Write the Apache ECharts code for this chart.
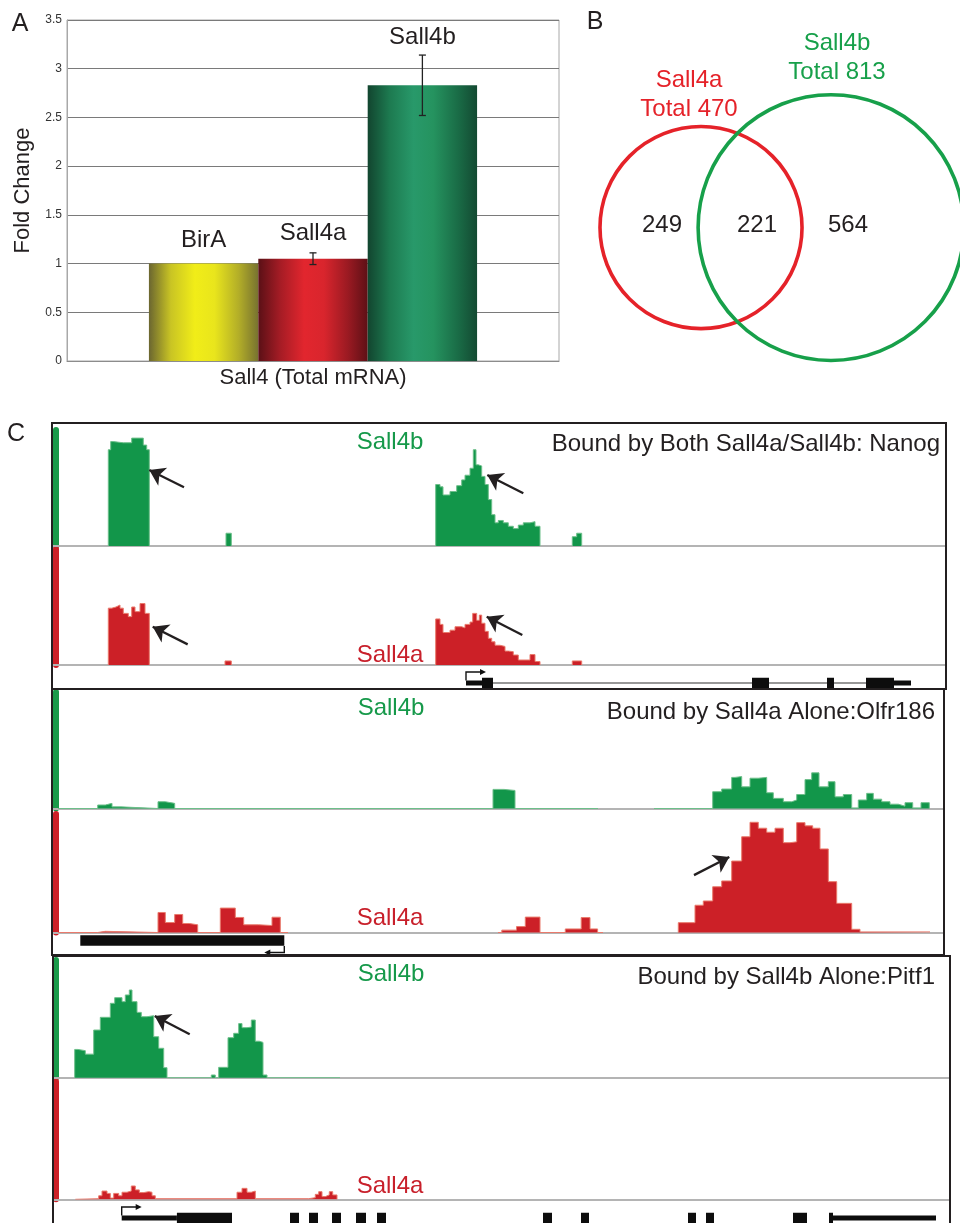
<!DOCTYPE html>
<html>
<head>
<meta charset="utf-8">
<script src="https://cdn.jsdelivr.net/npm/echarts@6/dist/echarts.min.js"></script>
<style>
html,body{margin:0;padding:0;background:#fff;}
#chart{width:960px;height:1223px;}
</style>
</head>
<body>
<div id="chart"></div>
<script>
// ===== Panel A: Sall4 total mRNA fold change =====
const barCategories = ['Sall4 (Total mRNA)'];
const barSeriesNames = ['BirA', 'Sall4a', 'Sall4b'];
const foldChange = [1.0, 1.05, 2.83];
const foldChangeErr = [0, 0.06, 0.31];
const foldTicks = [0, 0.5, 1, 1.5, 2, 2.5, 3, 3.5];

// ===== Panel B: Venn diagram of bound genes =====
const vennSets = ['Sall4a', 'Sall4b'];
const vennTotals = [470, 813];
const vennRegionCounts = [249, 221, 564]; // Sall4a only, both, Sall4b only

// ===== Panel C: ChIP coverage tracks =====
// [position, height % of track]; height null = coverage stops at that position
const s1Green = [
  [50.3, 83], [52.7, 90], [55.3, 89], [65.3, 89], [73.7, 93], [85.3, 87], [88.7, 83], [91.3, null],
  [168, 11], [173.3, null],
  [377.7, 53], [382, 51], [385, 44], [392, 47], [398.7, 52], [403.7, 57], [407, 61], [412, 67], [415.3, 83],
  [418, 70], [420.3, 69], [423.7, 60], [427, 53], [430.3, 40], [433.7, 27], [437, 20], [440.3, 22], [445.3, 20],
  [450.3, 17], [455.3, 15], [460.3, 18], [465.3, 20], [472, 21], [477, 17], [482, null],
  [514.3, 8], [518.7, 11], [523.7, null]
];
const s1Red = [
  [50.3, 49], [53.7, 50], [58, 51.7], [62, 49], [65.3, 44.5], [70.3, 41.7], [73.7, 50], [77, 46], [82, 53], [87, 44.5], [91.3, null],
  [167, 3.5], [173.3, null],
  [377.7, 39.7], [382, 35], [385, 28], [392, 30], [397, 33], [403.7, 32], [407, 35], [412, 37], [414.7, 44.5],
  [418.7, 38.5], [421.3, 43], [423.7, 36], [427, 29], [430.3, 23], [433.7, 20], [437, 17], [442, 16], [447, 12],
  [450.3, 11.5], [455.3, 8.6], [460.3, 4.3], [472, 9], [477, 3], [482, null],
  [514.3, 3.5], [523.7, null]
];
const s2Green = [
  [0, 0], [39.7, 3], [47.3, 4.4], [54, 1.4], [63, 0], [100, 5.8], [107.3, 4.4], [116.7, 0],
  [435, 16.4], [446, 15.5], [457, 0], [540, null],
  [596, 0], [654.7, 14.4], [663.7, 16.7], [673.7, 26.7], [677, 27.4], [683.7, 18.6], [692, 26], [700.3, 26.7],
  [708.7, 13.5], [715.3, 8.7], [725.3, 5.8], [733.7, 7.3], [738.7, 12], [747, 24.8], [753.7, 30.6], [761, 18.6],
  [770.3, 23], [777, 10], [785.3, 12], [793.7, 0.5], [800.3, 7.3], [808.7, 13], [815.3, 8], [823.7, 5.8],
  [832, 3.7], [840.3, 2], [847, 5], [854.7, 0.5], [863, 5], [871.3, null]
];
const s2Red = [
  [0, 0], [39.7, 1], [47.3, 0], [100, 16.9], [107.3, 8.4], [116.7, 15.2], [124.7, 7.6], [131.3, 6.5], [139.7, 0],
  [162.3, 20.6], [177.3, 12.7], [185.7, 6.5], [200.7, 5.9], [214, 12.9], [222.3, 0], [230, null],
  [440, 0], [443.8, 2], [458.5, 5], [467.3, 13], [482, 0], [507.3, 3], [523.2, 12.6], [532, 3], [539.6, 0], [545, null],
  [620.3, 8.3], [637, 23], [645.3, 26.6], [654.7, 38.6], [663.7, 43.5], [673.7, 60.3], [683.7, 80.8], [692, 93],
  [700.3, 88], [708.7, 84.6], [717, 88], [725.3, 75.8], [732, 76.5], [738.7, 92.7], [747, 90], [754.7, 88],
  [762, 70.5], [770.3, 42.9], [778.7, 24.6], [793.7, 2.7], [802, 0.5], [872, null]
];
const s3Green = [
  [16.7, 24], [20, 23], [27.3, 20], [35.7, 40.5], [42.3, 51.3], [52.3, 63.2], [56.7, 68], [64, 64.6], [67.3, 70.3],
  [71.3, 74.5], [74, 64.6], [79, 55.5], [83.3, 51.8], [89, 52.7], [95.7, 34.8], [100.7, 25], [105.7, 8.5], [109, 0],
  [153.3, 2.3], [157.3, 0], [160.7, 8.8], [170, 34], [175.7, 37.7], [180.7, 46], [184, 42.5], [189, 43],
  [193.3, 49], [197.3, 31], [201.3, 30], [205, 2.3], [209, 0], [282, null]
];
const s3Red = [
  [17.3, 0.5], [40.7, 3], [44, 7], [49, 5], [52.3, 1], [55.7, 5], [60.7, 3], [64, 6], [69, 7], [73.3, 11.3],
  [77.3, 8], [81.3, 5.7], [85.7, 6.5], [90.7, 6], [94, 3], [97.3, 0.5], [179, 6], [184, 9.3], [189, 6], [193.3, 7],
  [197.3, 0.5], [250.7, 1.4], [257.3, 4.2], [260.7, 6.5], [264, 2.3], [267.3, 3.7], [271.3, 6.5], [274.7, 3.7], [279, null]
];
// gene models: [start, end, kind] kind 0 = intron, 1 = UTR, 2 = exon
const s1Gene = [[424, 853, 0], [408, 424, 1], [836, 853, 1], [424, 435, 2], [694, 711, 2], [769, 776, 2], [808, 836, 2]];
const s2Gene = [[22.3, 226.3, 2]];
const s3Gene = [[63.7, 118.9, 1], [118.9, 174, 2], [232, 241, 2], [251, 260, 2], [274, 283, 2], [298, 308, 2],
  [319, 328, 2], [485, 494, 2], [523, 531, 2], [630, 638, 2], [648, 656, 2], [735, 749, 2], [771, 775, 2], [775, 878, 1]];
// transcription start: [position, strand]
const s1Tss = [[408, 1]];
const s2Tss = [[226.3, -1]];
const s3Tss = [[63.7, 1]];
// annotation arrows: [tailPos, tailHeight, headPos, headHeight]
const s1GreenArrows = [[126, 50.6, 91.3, 65.5], [465.3, 45.4, 429.3, 61.2]];
const s1RedArrows = [[129.7, 17.8, 94.7, 33], [464.3, 25.9, 428.7, 41.6]];
const s2GreenArrows = [];
const s2RedArrows = [[636, 48.4, 671.3, 63.8]];
const s3GreenArrows = [[131.7, 36.9, 96.7, 52.4]];
const s3RedArrows = [];
const sectionTitles = ['Bound by Both Sall4a/Sall4b: Nanog', 'Bound by Sall4a Alone:Olfr186', 'Bound by Sall4b Alone:Pitf1'];
const trackNames = ['Sall4b', 'Sall4a'];

// ===== style / layout =====
const FONT = '"Liberation Sans", Arial, Helvetica, sans-serif';
const TEXT = '#231f20';
const GREEN = '#12964a', GREEN_EDGE = '#6dbf8a', GREEN_BAR = '#1a9a4a', GREEN_TXT = '#16994a';
const RED = '#cc2027', RED_EDGE = '#e97a6c', RED_BAR = '#cc2027', RED_TXT = '#c8202b';
const VENN_COLORS = ['#e52229', '#17a04a'];
const BAR_GAP = 0.333;
const barGradients = [
  [['#6b6630', 0], ['#c9c424', 0.2], ['#f1ed18', 0.42], ['#e9e51c', 0.6], ['#b3ae28', 0.82], ['#777230', 1]],
  [['#5a1016', 0], ['#a51c25', 0.2], ['#e2262e', 0.42], ['#d9252d', 0.6], ['#9a1a22', 0.82], ['#5e1016', 1]],
  [['#12452f', 0], ['#1d7a50', 0.2], ['#28996a', 0.42], ['#25935f', 0.6], ['#1a6d47', 0.82], ['#134a32', 1]]
];
const barLabelDistance = [11, 13, 36];

const layout = [
  {left: 53, width: 892, gTop: 430, gH: 116, rTop: 549, rH: 116, geneCy: 683, box: [52, 423, 894, 266]},
  {left: 53, width: 890, gTop: 692, gH: 116.5, rTop: 814, rH: 118.5, geneCy: 940.5, box: [52, 689, 892, 266]},
  {left: 53, width: 896, gTop: 960, gH: 117.7, rTop: 1081.6, rH: 117.7, geneCy: 1218, box: [53, 956, 897, 300]}
];
const tracks = [
  {green: s1Green, red: s1Red, gene: s1Gene, tss: s1Tss, gArrows: s1GreenArrows, rArrows: s1RedArrows},
  {green: s2Green, red: s2Red, gene: s2Gene, tss: s2Tss, gArrows: s2GreenArrows, rArrows: s2RedArrows},
  {green: s3Green, red: s3Red, gene: s3Gene, tss: s3Tss, gArrows: s3GreenArrows, rArrows: s3RedArrows}
];
const trackLabelPos = [
  {g: [390, 442], r: [390, 655], t: [940, 444]},
  {g: [391, 708], r: [390, 918], t: [935, 712]},
  {g: [391, 974.5], r: [390, 1186.5], t: [935, 977]}
];
const VENN = {left: 560, top: 0, size: 400, pxPerUnit: 4.66, cx: [30.26, 58.15], cy: 37.0};

// ===== helpers =====
function toSteps(track) {
  const out = [];
  let inGap = true;
  track.forEach(function (p) {
    const x = p[0], h = p[1];
    if (h === null) { out.push([x, 0]); out.push([x, '-']); inGap = true; }
    else { if (inGap) out.push([x, 0]); out.push([x, h]); inGap = false; }
  });
  return out;
}
function arrowLines(list) {
  return list.map(function (a) { return [{coord: [a[0], a[1]]}, {coord: [a[2], a[3]]}]; });
}
function geneRender(params, api) {
  const s = api.coord([api.value(0), 0]);
  const e = api.coord([api.value(1), 0]);
  const kind = api.value(2);
  const h = kind === 2 ? 10.5 : (kind === 1 ? 5 : 1.2);
  return {type: 'rect', shape: {x: s[0], y: s[1] - h / 2, width: e[0] - s[0], height: h}, style: {fill: kind === 0 ? '#333' : '#0d0d0d'}};
}
function tssRender(params, api) {
  const p = api.coord([api.value(0), 0]);
  const dir = api.value(1);
  const x = p[0], cy = p[1];
  const y0 = dir > 0 ? cy - 2.5 : cy + 5.5;
  const y1 = dir > 0 ? cy - 11 : cy + 12;
  const x1 = x + dir * 20;
  return {type: 'group', children: [
    {type: 'polyline', shape: {points: [[x, y0], [x, y1], [x1 - dir * 5, y1]]}, style: {stroke: '#111', lineWidth: 1.4, fill: null}},
    {type: 'polygon', shape: {points: [[x1, y1], [x1 - dir * 6, y1 - 3], [x1 - dir * 6, y1 + 3]]}, style: {fill: '#111'}}
  ]};
}
function errRender(params, api) {
  const err = api.value(2);
  if (!err) return null;
  const mean = api.value(1), idx = api.value(3);
  const n = barSeriesNames.length;
  const band = api.size([1, 0])[0];
  const bw = band * (1 - BAR_GAP) / n;
  const c = api.coord([api.value(0), mean]);
  const x = c[0] + (idx - (n - 1) / 2) * bw;
  const yt = api.coord([api.value(0), mean + err])[1];
  const yb = api.coord([api.value(0), mean - err])[1];
  const st = {stroke: '#222', lineWidth: 1.3};
  return {type: 'group', children: [
    {type: 'line', shape: {x1: x, y1: yt, x2: x, y2: yb}, style: st},
    {type: 'line', shape: {x1: x - 3.5, y1: yt, x2: x + 3.5, y2: yt}, style: st},
    {type: 'line', shape: {x1: x - 3.5, y1: yb, x2: x + 3.5, y2: yb}, style: st}
  ]};
}
function vennRender(params, api) {
  const c = api.coord([api.value(0), api.value(1)]);
  const r = api.size([api.value(2), 0])[0];
  return {type: 'circle', shape: {cx: c[0], cy: c[1], r: r}, style: {fill: 'none', stroke: VENN_COLORS[api.value(3)], lineWidth: 3.6}};
}

// ===== build option =====
const grids = [], xAxes = [], yAxes = [], series = [], graphics = [];

// Panel A
grids.push({left: 67, top: 20, width: 492, height: 341, show: true, borderColor: '#a8a8a8', borderWidth: 1, outerBoundsMode: 'none'});
xAxes.push({gridIndex: 0, type: 'category', data: barCategories,
  axisLine: {show: true, lineStyle: {color: '#8c8c8c', width: 1}}, axisTick: {show: false},
  axisLabel: {fontSize: 22, color: TEXT, margin: 6, fontFamily: FONT}, splitLine: {show: false}});
yAxes.push({gridIndex: 0, type: 'value', min: foldTicks[0], max: foldTicks[foldTicks.length - 1], interval: foldTicks[1] - foldTicks[0],
  axisLine: {show: true, lineStyle: {color: '#a8a8a8'}}, axisTick: {show: false},
  axisLabel: {fontSize: 12, color: '#333', margin: 5, fontFamily: FONT},
  splitLine: {show: true, lineStyle: {color: '#7a7a7a', width: 1}},
  name: 'Fold Change', nameLocation: 'middle', nameGap: 21, nameTextStyle: {fontSize: 22, color: TEXT, fontFamily: FONT}});
barSeriesNames.forEach(function (name, i) {
  series.push({type: 'bar', name: name, xAxisIndex: 0, yAxisIndex: 0, data: [foldChange[i]],
    barGap: '0%', barCategoryGap: (BAR_GAP * 100) + '%',
    itemStyle: {color: new echarts.graphic.LinearGradient(0, 0, 1, 0, barGradients[i].map(function (s) { return {offset: s[1], color: s[0]}; }))},
    label: {show: true, position: 'top', distance: barLabelDistance[i], formatter: name, fontSize: 24, color: TEXT, fontFamily: FONT},
    emphasis: {disabled: true}});
});
series.push({type: 'custom', xAxisIndex: 0, yAxisIndex: 0, z: 5, renderItem: errRender, encode: {x: 0, y: 1},
  data: foldChange.map(function (v, i) { return [0, v, foldChangeErr[i], i]; })});

// Panel B
const vennMax = VENN.size / VENN.pxPerUnit;
grids.push({left: VENN.left, top: VENN.top, width: VENN.size, height: VENN.size, outerBoundsMode: 'none'});
xAxes.push({gridIndex: 1, type: 'value', min: 0, max: vennMax, show: false});
yAxes.push({gridIndex: 1, type: 'value', min: 0, max: vennMax, show: false});
series.push({type: 'custom', xAxisIndex: 1, yAxisIndex: 1, renderItem: vennRender, encode: {x: 0, y: 1},
  data: vennTotals.map(function (t, i) { return [VENN.cx[i], VENN.cy, Math.sqrt(t), i]; })});

function txt(x, y, text, size, color, align) {
  graphics.push({type: 'text', x: x, y: y, z: 110, silent: true,
    style: {text: text, fontSize: size, fontFamily: FONT, fill: color, align: align, textAlign: align,
      verticalAlign: 'middle', textVerticalAlign: 'middle'}});
}

// Panel C
layout.forEach(function (L, s) {
  const T = tracks[s];
  const base = grids.length;
  grids.push({left: L.left, top: L.gTop, width: L.width, height: L.gH, outerBoundsMode: 'none'});
  grids.push({left: L.left, top: L.rTop, width: L.width, height: L.rH, outerBoundsMode: 'none'});
  grids.push({left: L.left, top: L.geneCy - 10, width: L.width, height: 20, outerBoundsMode: 'none'});
  [0, 1].forEach(function (k) {
    xAxes.push({gridIndex: base + k, type: 'value', min: -5, max: L.width - 5,
      axisLine: {show: true, onZero: false, lineStyle: {color: '#b4b4b4', width: 2}},
      axisTick: {show: false}, axisLabel: {show: false}, splitLine: {show: false}});
    yAxes.push({gridIndex: base + k, type: 'value', min: 0, max: 100, offset: -3,
      axisLine: {show: true, onZero: false, lineStyle: {color: k === 0 ? GREEN_BAR : RED_BAR, width: 6}},
      axisTick: {show: false}, axisLabel: {show: false}, splitLine: {show: false}});
  });
  xAxes.push({gridIndex: base + 2, type: 'value', min: -5, max: L.width - 5, show: false});
  yAxes.push({gridIndex: base + 2, type: 'value', min: -1, max: 1, show: false});
  const markStyle = {silent: true, symbol: ['none', 'arrow'], symbolSize: 15, animation: false,
    lineStyle: {color: '#231f20', width: 2.3, type: 'solid'}, label: {show: false}, emphasis: {disabled: true}};
  series.push({type: 'line', xAxisIndex: base, yAxisIndex: base, data: toSteps(T.green), step: 'end',
    symbol: 'none', showSymbol: false, lineStyle: {color: GREEN_EDGE, width: 1}, areaStyle: {color: GREEN, opacity: 1},
    emphasis: {disabled: true}, markLine: Object.assign({data: arrowLines(T.gArrows)}, markStyle)});
  series.push({type: 'line', xAxisIndex: base + 1, yAxisIndex: base + 1, data: toSteps(T.red), step: 'end',
    symbol: 'none', showSymbol: false, lineStyle: {color: RED_EDGE, width: 1}, areaStyle: {color: RED, opacity: 1},
    emphasis: {disabled: true}, markLine: Object.assign({data: arrowLines(T.rArrows)}, markStyle)});
  series.push({type: 'custom', xAxisIndex: base + 2, yAxisIndex: base + 2, renderItem: geneRender,
    encode: {x: [0, 1], y: 2}, data: T.gene});
  series.push({type: 'custom', xAxisIndex: base + 2, yAxisIndex: base + 2, renderItem: tssRender,
    encode: {x: 0, y: 1}, data: T.tss});
  graphics.push({type: 'rect', z: 100, silent: true, shape: {x: L.box[0], y: L.box[1], width: L.box[2], height: L.box[3]},
    style: {fill: 'none', stroke: '#231f20', lineWidth: 2}});
  const P = trackLabelPos[s];
  txt(P.g[0], P.g[1], trackNames[0], 24, GREEN_TXT, 'center');
  txt(P.r[0], P.r[1], trackNames[1], 24, RED_TXT, 'center');
  txt(P.t[0], P.t[1], sectionTitles[s], 24, TEXT, 'right');
});

// panel letters
txt(20, 24, 'A', 25, TEXT, 'center');
txt(595, 22.5, 'B', 25, TEXT, 'center');
txt(16, 434, 'C', 25, TEXT, 'center');
// venn labels
txt(689, 80, vennSets[0], 24, VENN_COLORS[0], 'center');
txt(689, 109, 'Total ' + vennTotals[0], 24, VENN_COLORS[0], 'center');
txt(837, 43.5, vennSets[1], 24, VENN_COLORS[1], 'center');
txt(837, 72.5, 'Total ' + vennTotals[1], 24, VENN_COLORS[1], 'center');
txt(662, 225, String(vennRegionCounts[0]), 24, TEXT, 'center');
txt(757, 225, String(vennRegionCounts[1]), 24, TEXT, 'center');
txt(848, 225, String(vennRegionCounts[2]), 24, TEXT, 'center');

const chart = echarts.init(document.getElementById('chart'), null, {renderer: 'canvas'});
chart.setOption({
  backgroundColor: '#ffffff',
  animation: false,
  textStyle: {fontFamily: FONT},
  grid: grids, xAxis: xAxes, yAxis: yAxes, series: series, graphic: graphics
});
</script>
</body>
</html>
